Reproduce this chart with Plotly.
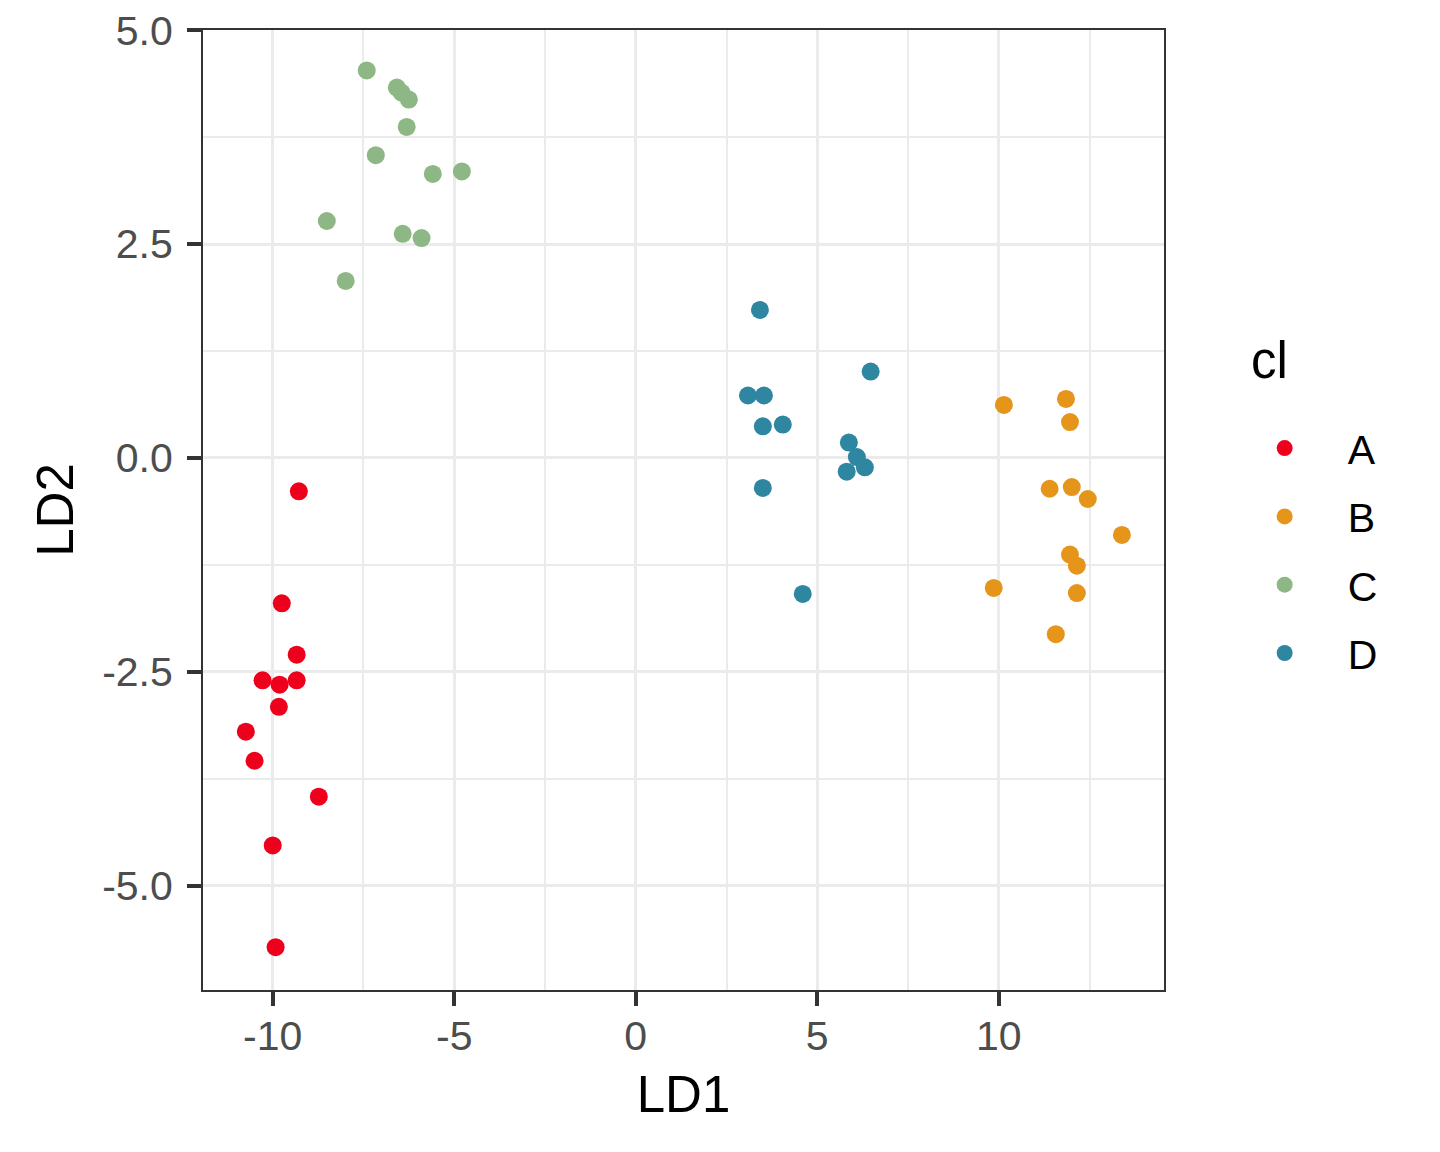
import plotly.graph_objects as go

classes = ["A", "B", "C", "D"]
colors = ["#EE001C", "#E4951A", "#8DB784", "#2E86A1"]

a_ld1 = [-9.28, -9.75, -9.34, -10.28, -9.81, -9.34, -9.83, -10.74, -10.50, -8.73, -10.00, -9.92]
a_ld2 = [-0.39, -1.70, -2.30, -2.60, -2.65, -2.60, -2.91, -3.20, -3.54, -3.96, -4.53, -5.72]

b_ld1 = [10.14, 11.85, 11.96, 11.40, 12.01, 12.45, 13.39, 11.96, 12.15, 9.86, 12.15, 11.57]
b_ld2 = [0.62, 0.69, 0.42, -0.36, -0.34, -0.48, -0.90, -1.13, -1.26, -1.52, -1.58, -2.06]

c_ld1 = [-7.41, -6.58, -6.45, -6.25, -6.31, -7.16, -5.59, -4.79, -8.51, -6.42, -5.90, -7.99]
c_ld2 = [4.53, 4.33, 4.27, 4.19, 3.87, 3.54, 3.32, 3.35, 2.77, 2.62, 2.57, 2.07]

d_ld1 = [3.42, 6.47, 3.09, 3.53, 3.50, 4.05, 5.87, 6.09, 6.31, 5.81, 3.50, 4.60]
d_ld2 = [1.73, 1.01, 0.73, 0.73, 0.37, 0.39, 0.18, 0.01, -0.11, -0.16, -0.35, -1.59]

xs = [a_ld1, b_ld1, c_ld1, d_ld1]
ys = [a_ld2, b_ld2, c_ld2, d_ld2]

x_ticks = [-10, -5, 0, 5, 10]
y_ticks = [-5.0, -2.5, 0.0, 2.5, 5.0]
y_ticklabels = ["-5.0", "-2.5", "0.0", "2.5", "5.0"]

FONT = "Liberation Sans, Arial, Helvetica"

fig = go.Figure()
for name, col, x, y in zip(classes, colors, xs, ys):
    fig.add_trace(go.Scatter(
        x=x, y=y, mode="markers", name=name, legendgroup=name,
        marker=dict(color=col, size=18, line=dict(width=0)),
    ))

axis_common = dict(
    showline=True, linecolor="#333333", linewidth=2, mirror=True,
    ticks="outside", ticklen=14, tickwidth=4, tickcolor="#333333",
    showgrid=True, gridcolor="#EBEBEB", gridwidth=3,
    zeroline=False, automargin=False, ticklabeloverflow="allow",
    tickfont=dict(family=FONT, size=41, color="#4D4D4D"),
)

fig.update_xaxes(
    range=[-11.92, 14.55], tickvals=x_ticks, ticktext=[str(v) for v in x_ticks],
    ticklabelstandoff=-5,
    title=dict(text="LD1", font=dict(family=FONT, size=51, color="black"), standoff=18),
    minor=dict(tickvals=[-7.5, -2.5, 2.5, 7.5, 12.5], showgrid=True, gridcolor="#EBEBEB", gridwidth=2, ticks=""),
    **axis_common,
)
fig.update_yaxes(
    range=[-6.22, 5.003], tickvals=y_ticks, ticktext=y_ticklabels,
    ticklabelstandoff=6,
    title=dict(text="LD2", font=dict(family=FONT, size=51, color="black"), standoff=12),
    minor=dict(tickvals=[-3.75, -1.25, 1.25, 3.75], showgrid=True, gridcolor="#EBEBEB", gridwidth=2, ticks=""),
    **axis_common,
)

fig.add_annotation(
    text="cl", xref="paper", yref="paper", x=1.088, y=0.656,
    xanchor="left", yanchor="middle", showarrow=False,
    font=dict(family=FONT, size=51, color="black"),
)

fig.update_layout(
    width=1440, height=1152,
    margin=dict(l=195, r=284, t=22, b=170),
    plot_bgcolor="white", paper_bgcolor="white",
    legend=dict(
        font=dict(family=FONT, size=41, color="black"),
        x=1.060, xanchor="left", y=0.599, yanchor="top",
        traceorder="grouped", tracegroupgap=12, itemwidth=116,
        bgcolor="rgba(0,0,0,0)",
    ),
)

fig.write_html("out.html")
